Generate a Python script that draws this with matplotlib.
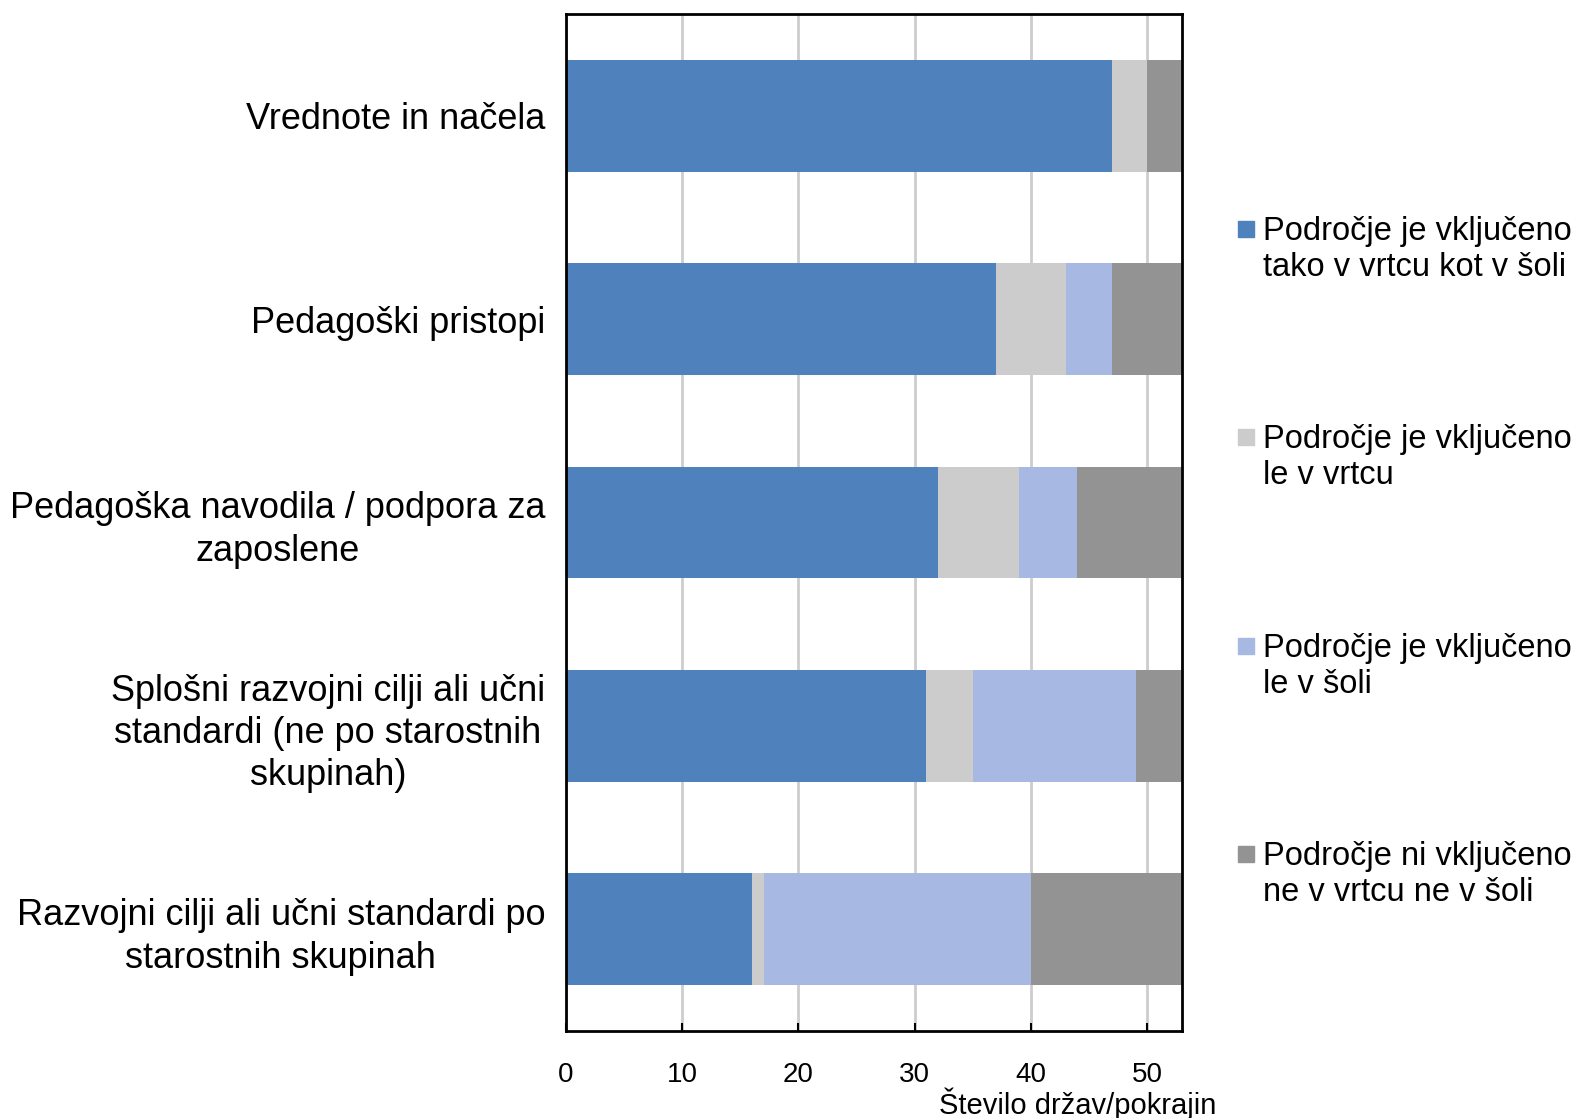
import matplotlib
matplotlib.use("Agg")
import matplotlib.pyplot as plt
from matplotlib.patches import Rectangle
import numpy as np

plt.rcParams['font.family'] = ['Liberation Sans', 'DejaVu Sans']

categories = [
    "Vrednote in načela",
    "Pedagoški pristopi",
    "Pedagoška navodila / podpora za\nzaposlene",
    "Splošni razvojni cilji ali učni\nstandardi (ne po starostnih\nskupinah)",
    "Razvojni cilji ali učni standardi po\nstarostnih skupinah",
]
series_labels = [
    "Področje je vključeno\ntako v vrtcu kot v šoli",
    "Področje je vključeno\nle v vrtcu",
    "Področje je vključeno\nle v šoli",
    "Področje ni vključeno\nne v vrtcu ne v šoli",
]
both = [47, 37, 32, 31, 16]
kinder_only = [3, 6, 7, 4, 1]
school_only = [0, 4, 5, 14, 23]
neither = [3, 6, 9, 4, 13]
xticks = [0, 10, 20, 30, 40, 50]
xlabel = "Število držav/pokrajin"

colors = ["#4F81BD", "#CCCCCC", "#A7B9E3", "#939393"]

W, H = 1575, 1118
fig = plt.figure(figsize=(15.75, 11.18), dpi=100)
ax_l, ax_r, ax_t, ax_b = 566, 1182, 14, 1031
ax = fig.add_axes([ax_l/W, 1 - ax_b/H, (ax_r-ax_l)/W, (ax_b-ax_t)/H])

y = np.arange(len(categories))
left = np.zeros(len(categories))
for vals, c in zip([both, kinder_only, school_only, neither], colors):
    ax.barh(y, vals, left=left, height=0.55, color=c, zorder=2)
    left += np.array(vals)

ax.set_xlim(0, 53)
ax.set_ylim(len(categories) - 0.5, -0.5)
ax.set_yticks(y)
ax.set_yticklabels(categories, fontsize=26, linespacing=1.27)
for lab in ax.get_yticklabels():
    lab.set_multialignment('center')
ax.tick_params(axis='y', length=0, pad=15)
ax.set_xticks(xticks)
ax.set_xticklabels([str(t) for t in xticks], fontsize=20)
ax.tick_params(axis='x', direction='in', length=6, width=1.5, pad=22)
ax.grid(axis='x', color='#CDCDCD', linewidth=2, zorder=0)
for s in ax.spines.values():
    s.set_linewidth(2)
    s.set_color('black')
    s.set_zorder(3)

ax.set_xlabel(xlabel, fontsize=21)
ax.xaxis.set_label_coords((1078-ax_l)/(ax_r-ax_l), -0.0554)

# legend (square marker aligned with the first line of each entry)
line1_y = [229, 437, 646, 854]
for lab, c, ly in zip(series_labels, colors, line1_y):
    fig.patches.append(Rectangle((1238/W, 1 - (ly+8)/H), 16/W, 16/H,
                                 transform=fig.transFigure, color=c))
    fig.text(1263/W, 1 - (ly-13)/H, lab, fontsize=23.5, va='top', ha='left',
             linespacing=1.19)

fig.savefig("out.png", dpi=100)
